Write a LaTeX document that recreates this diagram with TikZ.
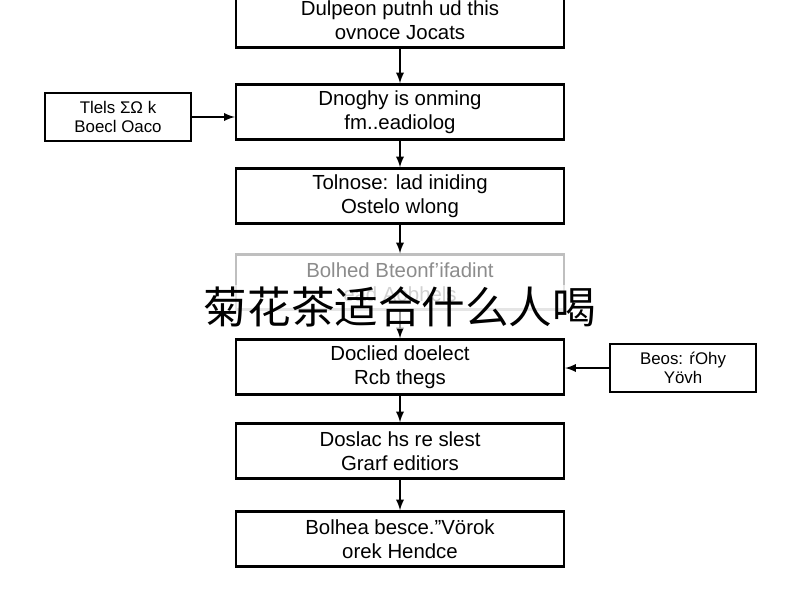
\documentclass[tikz,border=0pt]{standalone}
\usepackage{fontspec}
\setmainfont{Liberation Sans}
\newfontfamily\cjk{Noto Sans CJK SC}
\usetikzlibrary{positioning}
\tikzset{
  stepbox/.style={draw, line width=1.6pt, minimum width=8.2cm, minimum height=1.38cm, align=center, font=\fontsize{14.5}{17}\selectfont},
  sidebox/.style={draw, line width=1.6pt, minimum width=3.65cm, minimum height=1.2cm, align=center, font=\fontsize{12}{14}\selectfont},
  flow/.style={-latex, line width=1.6pt}
}
\begin{document}
\begin{tikzpicture}[x=0.025cm, y=-0.025cm]
  \useasboundingbox (0,0) rectangle (800,600);
  \fill[white] (0,0) rectangle (800,600);

  % main column
  \node[stepbox] (s1) at (400,20) {Dulpeon putnh ud this\\ ovnoce Jocats};
  \node[stepbox] (s2) at (400,112) {Dnoghy is onming\\ fm..eadiolog};
  \node[stepbox] (s3) at (400,196) {Tolnose: lad iniding\\ Ostelo wlong};
  \node[stepbox, draw=black!25, text=black!45] (s4) at (400,282) {Bolhed Bteonf'ifadint\\ ead Aobhels};
  \node[stepbox] (s5) at (400,367) {Doclied doelect\\ Rcb thegs};
  \node[stepbox] (s6) at (400,451) {Doslac hs re slest\\ Grarf editiors};
  \node[stepbox] (s7) at (400,539) {Bolhea besce."Vörok\\ orek Hendce};

  % side inputs
  \node[sidebox] (l1) at (118,117) {Tlels ΣΩ k\\ Boecl Oaco};
  \node[sidebox] (r1) at (683,368) {Beos: ŕOhy\\ Yövh};

  \foreach \a/\b in {s1/s2, s2/s3, s3/s4, s4/s5, s5/s6, s6/s7}
    \draw[flow] (\a) -- (\b);
  \draw[flow] (l1.east) -- (l1.east -| s2.west);
  \draw[flow] (r1.west) -- (r1.west -| s5.east);

  \node[font=\cjk\fontsize{31}{35}\selectfont, fill=white, fill opacity=0.6, text opacity=1, inner sep=1pt] (title) at (400,307) {菊花茶适合什么人喝};
\end{tikzpicture}
\end{document}
